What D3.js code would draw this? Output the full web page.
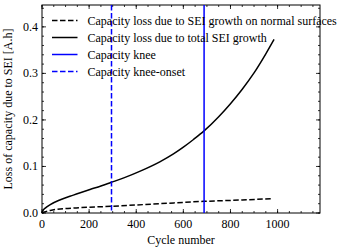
<!DOCTYPE html>
<html>
<head>
<meta charset="utf-8">
<script src="https://cdn.jsdelivr.net/npm/d3@7"></script>
<style>
  body { margin: 0; background: #fff; }
  svg text { font-family: "Liberation Serif", "Times New Roman", "DejaVu Serif", serif; fill: #000; }
</style>
</head>
<body>
<svg id="chart" width="346" height="252"></svg>
<script>
// values
var cycles = [0, 5, 15, 35, 78, 133, 204, 250, 292, 350, 417, 500, 558, 600, 643, 689, 750, 800, 850, 900, 950, 985];
var totalSEI = [0, 0.006, 0.011, 0.018, 0.0285, 0.0385, 0.0505, 0.058, 0.0655, 0.076, 0.090, 0.110, 0.127, 0.1415, 0.158, 0.177, 0.207, 0.235, 0.266, 0.301, 0.342, 0.373];
var normalCycles = [0, 10, 35, 134, 292, 500, 686, 850, 976];
var normalSEI = [0, 0.002, 0.0056, 0.0107, 0.0143, 0.020, 0.025, 0.028, 0.031];
var kneeOnset = 295;
var knee = 688;
var xTicks = [0, 200, 400, 600, 800, 1000];
var yTicks = [0, 0.1, 0.2, 0.3, 0.4];
var legendLabels = [
  "Capacity loss due to SEI growth on normal surfaces",
  "Capacity loss due to total SEI growth",
  "Capacity knee",
  "Capacity knee-onset"
];

var FONT = "'Liberation Serif', 'Times New Roman', 'DejaVu Serif', serif";
var FS = 12;

var margin = {top: 5, right: 26, bottom: 39, left: 42},
    width = 346 - margin.left - margin.right,
    height = 252 - margin.top - margin.bottom;

var svg = d3.select("#chart")
  .append("g")
    .attr("transform", "translate(" + margin.left + "," + margin.top + ")");

var x = d3.scaleLinear().domain([0, 1180]).range([0, width]);
var y = d3.scaleLinear().domain([0, 0.447]).range([height, 0]);

// frame
svg.append("rect")
  .attr("width", width).attr("height", height)
  .attr("fill", "none").attr("stroke", "#000").attr("stroke-width", 1);

// ticks pointing inward, all four sides
var xMinor = d3.range(0, 1180, 50);
var yMinor = d3.range(0, 0.447, 0.02);
function tickLines(vals, horiz, len, pos) {
  svg.append("g").selectAll("line").data(vals).enter().append("line")
    .attr("x1", function(d){ return horiz ? x(d) : pos; })
    .attr("x2", function(d){ return horiz ? x(d) : pos + len; })
    .attr("y1", function(d){ return horiz ? pos : y(d); })
    .attr("y2", function(d){ return horiz ? pos + len : y(d); })
    .attr("stroke", "#000").attr("stroke-width", 0.8);
}
tickLines(xMinor, true, -2, height);
tickLines(xMinor, true, 2, 0);
tickLines(xTicks, true, -4, height);
tickLines(xTicks, true, 4, 0);
tickLines(yMinor, false, 2, 0);
tickLines(yMinor, false, -2, width);
tickLines(yTicks, false, 4, 0);
tickLines(yTicks, false, -4, width);

// tick labels
svg.append("g").selectAll("text").data(xTicks).enter().append("text")
  .attr("x", function(d){ return x(d); })
  .attr("y", height + 15)
  .attr("text-anchor", "middle")
  .attr("font-family", FONT).attr("font-size", FS)
  .text(function(d){ return d; });
svg.append("g").selectAll("text").data(yTicks).enter().append("text")
  .attr("x", -4)
  .attr("y", function(d){ return y(d) + 4; })
  .attr("text-anchor", "end")
  .attr("font-family", FONT).attr("font-size", FS)
  .text(function(d){ return d.toFixed(1); });

// axis titles
svg.append("text")
  .attr("x", width / 2).attr("y", height + 31)
  .attr("text-anchor", "middle")
  .attr("font-family", FONT).attr("font-size", FS)
  .text("Cycle number");
svg.append("text")
  .attr("transform", "translate(" + (-30) + "," + (height / 2) + ") rotate(-90)")
  .attr("text-anchor", "middle")
  .attr("font-family", FONT).attr("font-size", FS)
  .text("Loss of capacity due to SEI [A.h]");

var plot = svg.append("g");

var line = d3.line()
  .x(function(d){ return x(d[0]); })
  .y(function(d){ return y(d[1]); })
  .curve(d3.curveMonotoneX);

plot.append("path")
  .datum(d3.zip(normalCycles, normalSEI))
  .attr("d", line)
  .attr("fill", "none").attr("stroke", "#000")
  .attr("stroke-width", 1.5).attr("stroke-dasharray", "5.5,2.5");

plot.append("path")
  .datum(d3.zip(cycles, totalSEI))
  .attr("d", line)
  .attr("fill", "none").attr("stroke", "#000")
  .attr("stroke-width", 1.5);

// knee lines
plot.append("line")
  .attr("x1", x(knee)).attr("x2", x(knee))
  .attr("y1", 0).attr("y2", height)
  .attr("stroke", "#0000ff").attr("stroke-width", 1.5);
plot.append("line")
  .attr("x1", x(kneeOnset)).attr("x2", x(kneeOnset))
  .attr("y1", 0).attr("y2", height)
  .attr("stroke", "#0000ff").attr("stroke-width", 1.5)
  .attr("stroke-dasharray", "5.5,2.5");

// legend
var legendStyles = [
  {color: "#000", dash: "5.5,2.5"},
  {color: "#000", dash: null},
  {color: "#0000ff", dash: null},
  {color: "#0000ff", dash: "5.5,2.5"}
];
var legend = svg.append("g").attr("transform", "translate(10,15.5)");
legendLabels.forEach(function(lbl, i){
  var g = legend.append("g").attr("transform", "translate(0," + (i * 17) + ")");
  g.append("line")
    .attr("x1", 0).attr("x2", 25.5)
    .attr("stroke", legendStyles[i].color).attr("stroke-width", 1.5)
    .attr("stroke-dasharray", legendStyles[i].dash);
  g.append("text")
    .attr("x", 35.5).attr("y", 4)
    .attr("font-family", FONT).attr("font-size", FS)
    .text(lbl);
});
</script>
</body>
</html>
